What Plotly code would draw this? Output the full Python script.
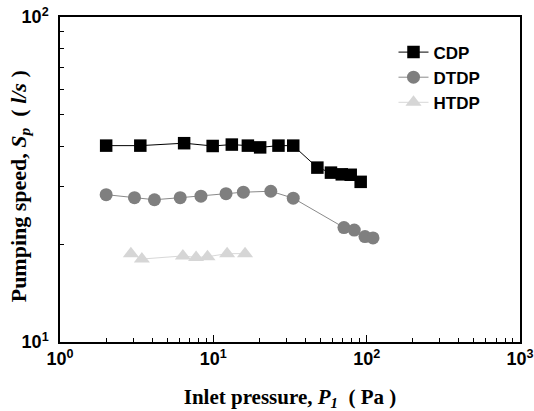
import plotly.graph_objects as go

# Data
cdp_x = [2.0, 3.34, 6.45, 9.9, 13.2, 16.8, 20.2, 26.6, 33.2, 47.7, 58.5, 68.8, 78.7, 91.4]
cdp_y = [40.2, 40.2, 40.9, 40.1, 40.5, 40.2, 39.7, 40.2, 40.2, 34.4, 33.2, 32.8, 32.7, 31.1]

dtdp_x = [2.0, 3.06, 4.13, 6.08, 8.3, 12.1, 15.7, 23.7, 33.2, 71.1, 83.0, 97.5, 110.0]
dtdp_y = [28.4, 27.8, 27.4, 27.8, 28.1, 28.6, 28.9, 29.1, 27.7, 22.5, 22.1, 21.1, 20.9]

htdp_x = [2.90, 3.42, 6.33, 7.72, 9.16, 12.3, 16.1]
htdp_y = [18.7, 18.0, 18.4, 18.2, 18.3, 18.7, 18.7]

x_tickvals = [1, 10, 100, 1000]
x_ticktext = ["10<sup>0</sup>", "10<sup>1</sup>", "10<sup>2</sup>", "10<sup>3</sup>"]
y_tickvals = [10, 100]
y_ticktext = ["10<sup>1</sup>", "10<sup>2</sup>"]

x_minor = [m * d for d in (1, 10, 100) for m in range(2, 10)]
y_minor = [m * 10 for m in range(2, 10)]

fig = go.Figure()
fig.add_trace(go.Scatter(x=cdp_x, y=cdp_y, name="CDP", mode="lines+markers",
                         line=dict(color="#000000", width=1),
                         marker=dict(symbol="square", size=12.5, color="#000000")))
fig.add_trace(go.Scatter(x=dtdp_x, y=dtdp_y, name="DTDP", mode="lines+markers",
                         line=dict(color="#8a8a8a", width=1),
                         marker=dict(symbol="circle", size=13, color="#7f7f7f")))
fig.add_trace(go.Scatter(x=htdp_x, y=htdp_y, name="HTDP", mode="lines+markers",
                         line=dict(color="#d8d8d8", width=1),
                         marker=dict(symbol="triangle-up", size=14, color="#d6d6d6")))

axis_common = dict(
    showline=True, linecolor="#000000", linewidth=1.5, mirror=True,
    ticks="inside", ticklen=7, tickwidth=1, tickcolor="#000000",
    showgrid=False, zeroline=False, automargin=False,
    tickfont=dict(family="Liberation Sans", size=18, color="#000000", weight="bold"),
)

fig.update_xaxes(type="log", range=[0, 3], tickmode="array",
                 tickvals=x_tickvals, ticktext=x_ticktext,
                 minor=dict(ticks="inside", ticklen=4, tickcolor="#000000",
                            tickmode="array", tickvals=x_minor),
                 title=dict(text="Inlet pressure, <i>P</i><sub><i>1</i></sub>  ( Pa )",
                            font=dict(family="Liberation Serif", size=21, color="#000000",
                                      weight="bold"),
                            standoff=21),
                 **axis_common)
fig.update_yaxes(type="log", range=[1, 2], tickmode="array",
                 tickvals=y_tickvals, ticktext=y_ticktext,
                 minor=dict(ticks="inside", ticklen=4, tickcolor="#000000",
                            tickmode="array", tickvals=y_minor),
                 ticklabelstandoff=6,
                 **axis_common)

fig.add_annotation(
    text="<b>Pumping speed, <i>S</i><sub><i>p</i></sub>  ( <i>l/s</i> )</b>",
    xref="paper", yref="paper", x=-0.087, y=0.479, xanchor="center", yanchor="middle",
    textangle=-90, showarrow=False,
    font=dict(family="Liberation Serif", size=22, color="#000000"),
)

fig.update_layout(
    width=534, height=411,
    margin=dict(l=60, r=14, t=17, b=69),
    paper_bgcolor="white", plot_bgcolor="white",
    showlegend=True,
    legend=dict(x=0.725, y=0.946, xanchor="left", yanchor="top",
                font=dict(family="Liberation Sans", size=17, color="#000000", weight="bold"),
                bgcolor="rgba(0,0,0,0)", tracegroupgap=0),
)

fig.write_html("out.html", config={"displayModeBar": False},
               post_script="document.body.style.margin='0';document.body.style.padding='0';")
